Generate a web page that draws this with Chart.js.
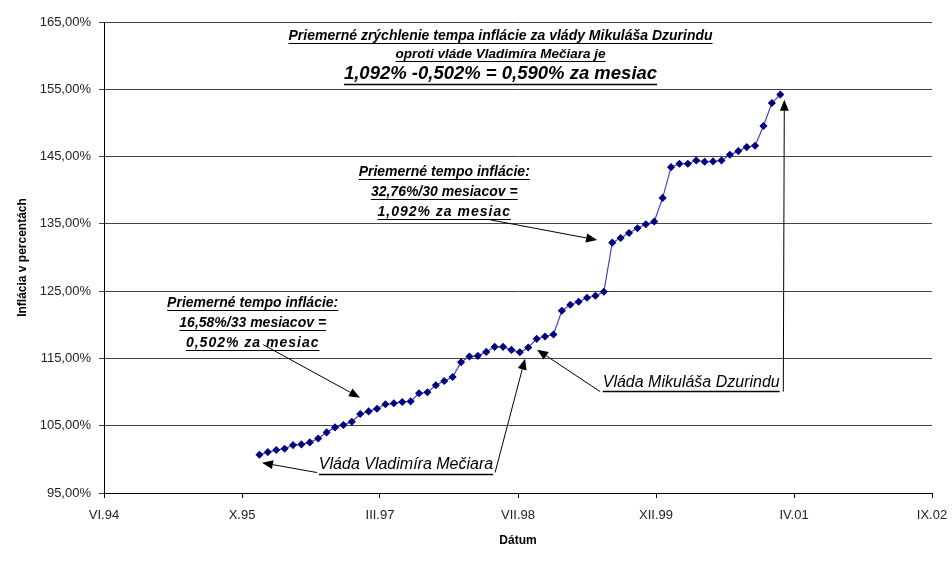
<!DOCTYPE html>
<html lang="sk">
<head>
<meta charset="UTF-8">
<title>Inflácia v percentách</title>
<script src="https://cdn.jsdelivr.net/npm/chart.js"></script>
<style>
  body { margin: 0; background: #fff; }
  canvas { display: block; }
</style>
</head>
<body>
<canvas id="chart" width="952" height="566"></canvas>
<script>
// x axis: months counted from mid-June 1994, ticks every 500 days
const tickLabels = ['VI.94', 'X.95', 'III.97', 'VII.98', 'XII.99', 'IV.01', 'IX.02'];
const tickMonths = [0, 16.43, 32.85, 49.28, 65.71, 82.14, 98.56];
const firstMonth = 18.5; // I.96

// cumulative price index in %, monthly from I.96 to III.01
const inflation = [
  100.68, 101.08, 101.38, 101.57, 102.12, 102.22, 102.52, 103.11, 104.01, 104.75,
  105.10, 105.60, 106.74, 107.13, 107.53, 108.18, 108.33, 108.53, 108.62, 109.82,
  109.97, 111.01, 111.65, 112.25, 114.43, 115.28, 115.38, 115.97, 116.72, 116.72,
  116.27, 115.92, 116.62, 117.91, 118.26, 118.55, 122.08, 122.97, 123.42, 124.02,
  124.31, 124.91, 132.21, 132.90, 133.65, 134.34, 134.94, 135.34, 138.86, 143.43,
  143.93, 143.93, 144.42, 144.23, 144.28, 144.42, 145.27, 145.81, 146.41, 146.61,
  149.54, 152.96, 154.21
];

const points = inflation.map((v, i) => ({ x: firstMonth + i, y: v }));

const FONT = '"Liberation Sans", Arial, sans-serif';

// text boxes (anchored in data units): [text, font, line offset px, letter spacing px]
const notes = [
  { x: 47.2, y: 162.95, lines: [
    ['Priemerné zrýchlenie tempa inflácie za vlády Mikuláša Dzurindu', 'italic bold 14px', 0, 0],
    ['oproti vláde Vladimíra Mečiara je', 'italic bold 13.5px', 18, 0],
    ['1,092% -0,502% = 0,590% za mesiac', 'italic bold 18.5px', 38, 0]
  ]},
  { x: 40.5, y: 142.74, lines: [
    ['Priemerné tempo inflácie:', 'italic bold 14px', 0, 0],
    ['32,76%/30 mesiacov =', 'italic bold 14px', 20, 0],
    ['1,092% za mesiac', 'italic bold 14px', 40, 1]
  ]},
  { x: 17.7, y: 123.28, lines: [
    ['Priemerné tempo inflácie:', 'italic bold 14px', 0, 0],
    ['16,58%/33 mesiacov =', 'italic bold 14px', 20, 0],
    ['0,502% za mesiac', 'italic bold 14px', 40, 1]
  ]},
  { x: 35.95, y: 99.2, lines: [['Vláda Vladimíra Mečiara', 'italic 16px', 0, 0]] },
  { x: 69.9, y: 111.4, lines: [['Vláda Mikuláša Dzurindu', 'italic 16px', 0, 0]] }
];

// arrows [fromX, fromY, toX, toY] in data units, head at "to"
const arrows = [
  [45.97, 135.6, 58.7, 132.6],
  [18.94, 117.05, 30.47, 109.17],
  [25.35, 98.04, 18.8, 99.5],
  [46.55, 98.04, 50.12, 114.97],
  [59.06, 110.07, 51.55, 116.3],
  [80.86, 110.07, 80.98, 153.45]
];

const notesPlugin = {
  id: 'notes',
  afterDraw(chart) {
    const { ctx, scales: { x, y } } = chart;
    ctx.save();
    ctx.fillStyle = '#000';
    ctx.strokeStyle = '#000';
    ctx.textAlign = 'center';
    ctx.textBaseline = 'middle';
    notes.forEach(n => {
      const cx = x.getPixelForValue(n.x);
      const cy = y.getPixelForValue(n.y);
      n.lines.forEach(([text, font, dy, spacing]) => {
        ctx.font = font + ' ' + FONT;
        ctx.letterSpacing = spacing + 'px';
        const size = parseFloat(font.match(/([\d.]+)px/)[1]);
        const w = ctx.measureText(text).width;
        ctx.fillText(text, cx, cy + dy);
        ctx.lineWidth = size > 15 ? 1.5 : 1;
        const uy = Math.round(cy + dy + size * 0.55) + 0.5;
        ctx.beginPath();
        ctx.moveTo(cx - w / 2, uy);
        ctx.lineTo(cx + w / 2, uy);
        ctx.stroke();
      });
    });
    ctx.letterSpacing = '0px';
    ctx.lineWidth = 1;
    arrows.forEach(([x1, y1, x2, y2]) => {
      const ax = x.getPixelForValue(x1), ay = y.getPixelForValue(y1);
      const bx = x.getPixelForValue(x2), by = y.getPixelForValue(y2);
      const ang = Math.atan2(by - ay, bx - ax);
      const len = 11, half = 4.5;
      ctx.beginPath();
      ctx.moveTo(ax, ay);
      ctx.lineTo(bx - Math.cos(ang) * len, by - Math.sin(ang) * len);
      ctx.stroke();
      ctx.beginPath();
      ctx.moveTo(bx, by);
      ctx.lineTo(bx - Math.cos(ang) * len - Math.sin(ang) * half, by - Math.sin(ang) * len + Math.cos(ang) * half);
      ctx.lineTo(bx - Math.cos(ang) * len + Math.sin(ang) * half, by - Math.sin(ang) * len - Math.cos(ang) * half);
      ctx.closePath();
      ctx.fill();
    });
    ctx.restore();
  }
};

new Chart(document.getElementById('chart'), {
  type: 'line',
  data: {
    datasets: [{
      data: points,
      borderColor: '#4646b4',
      borderWidth: 1.2,
      backgroundColor: '#000080',
      pointBackgroundColor: '#000080',
      pointBorderColor: '#000080',
      pointStyle: 'rectRot',
      pointRadius: 3.2,
      tension: 0
    }]
  },
  options: {
    responsive: false,
    devicePixelRatio: 1,
    animation: false,
    layout: { padding: { left: 0, right: 20, top: 22, bottom: 0 } },
    plugins: { legend: { display: false }, tooltip: { enabled: false } },
    scales: {
      x: {
        type: 'linear',
        min: 0,
        max: 98.56,
        afterBuildTicks: s => { s.ticks = tickMonths.map(v => ({ value: v })); },
        afterFit: s => { s.height = 73; s.paddingLeft = 0; s.paddingRight = 0; },
        grid: { display: true, drawOnChartArea: false, drawTicks: true, tickLength: 5, color: '#000' },
        border: { color: '#000', width: 1 },
        ticks: {
          autoSkip: false,
          maxRotation: 0,
          padding: 10,
          color: '#222',
          font: { family: FONT, size: 13 },
          callback: (v, i) => tickLabels[i]
        },
        title: {
          display: true,
          text: 'Dátum',
          color: '#000',
          font: { family: FONT, size: 12, weight: 'bold' },
          padding: { top: 0, bottom: 18 }
        }
      },
      y: {
        min: 95,
        max: 165,
        afterFit: s => { s.width = 104; },
        grid: { color: '#444', tickLength: 5, drawTicks: true },
        border: { color: '#000', width: 1 },
        ticks: {
          stepSize: 10,
          padding: 8,
          color: '#222',
          font: { family: FONT, size: 13 },
          callback: v => v.toFixed(2).replace('.', ',') + '%'
        },
        title: {
          display: true,
          text: 'Inflácia v percentách',
          color: '#000',
          font: { family: FONT, size: 12, weight: 'bold' },
          padding: { top: 15, bottom: 0 }
        }
      }
    }
  },
  plugins: [notesPlugin]
});
</script>
</body>
</html>
